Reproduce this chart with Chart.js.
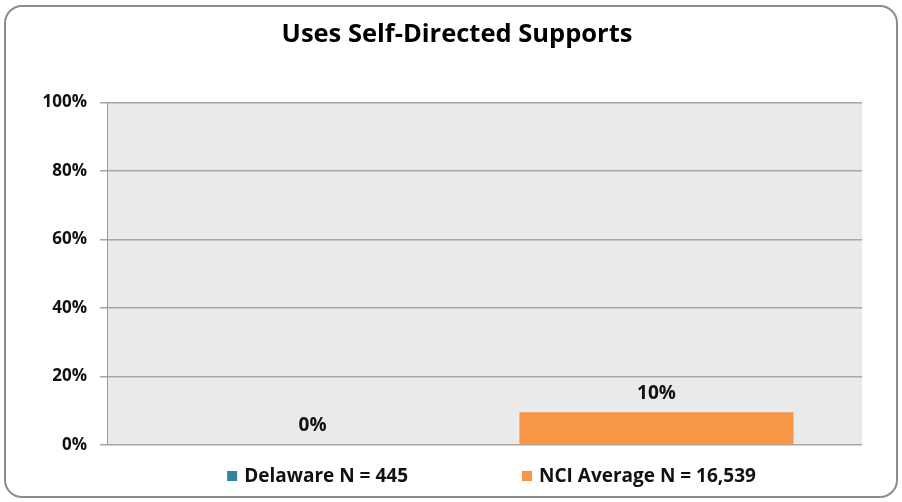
<!DOCTYPE html>
<html>
<head>
<meta charset="utf-8">
<script src="https://cdn.jsdelivr.net/npm/chart.js@4.4.1/dist/chart.umd.min.js"></script>
<style>
  html, body { margin: 0; padding: 0; background: #fff; }
  #wrap { position: relative; width: 902px; height: 502px; }
  #frame {
    position: absolute; left: 4px; top: 5px; width: 890px; height: 489px;
    border: 2px solid #8c8c8c; border-radius: 18px; pointer-events: none;
  }
  canvas { position: absolute; left: 0; top: 0; }
</style>
</head>
<body>
<div id="wrap">
  <canvas id="chart" width="902" height="502"></canvas>
  <div id="frame"></div>
</div>
<script>
// data
const categories = ['Uses Self-Directed Supports'];
const seriesNames = ['Delaware N = 445', 'NCI Average N = 16,539'];
const delawareValues = [0];
const nciValues = [9.6];
const valueLabels = [['0%'], ['10%']];
const yTicks = [0, 20, 40, 60, 80, 100];

const FONT = 'Open Sans';
const colors = ['#31859C', '#F79646'];

// gray plot background
const plotBg = {
    id: 'plotBg',
    beforeDraw(chart) {
        const { ctx, chartArea: a } = chart;
        ctx.save();
        ctx.fillStyle = '#EAEAEA';
        ctx.fillRect(a.left, a.top, a.right - a.left, a.bottom - a.top);
        ctx.restore();
    }
};

// value labels above bars
const barLabels = {
    id: 'barLabels',
    afterDatasetsDraw(chart) {
        const ctx = chart.ctx;
        ctx.save();
        ctx.font = 'bold 19px "' + FONT + '"';
        ctx.fillStyle = '#111';
        ctx.textAlign = 'center';
        ctx.textBaseline = 'middle';
        chart.data.datasets.forEach((ds, i) => {
            chart.getDatasetMeta(i).data.forEach((bar, j) => {
                ctx.fillText(valueLabels[i][j], bar.x, bar.y - 19);
            });
        });
        ctx.restore();
    }
};

// legend drawn at bottom
const bottomLegend = {
    id: 'bottomLegend',
    afterDraw(chart) {
        const ctx = chart.ctx;
        const a = chart.chartArea;
        ctx.save();
        ctx.font = 'bold 19px "' + FONT + '"';
        ctx.textBaseline = 'middle';
        const box = 10, gapText = 7, gapItem = 114;
        const widths = seriesNames.map(n => box + gapText + ctx.measureText(n).width);
        const total = widths.reduce((s, w) => s + w, 0) + gapItem * (widths.length - 1);
        let x = (a.left + a.right) / 2 + 7 - total / 2;
        const y = 476;
        seriesNames.forEach((n, i) => {
            ctx.fillStyle = colors[i];
            ctx.fillRect(x, y - box / 2, box, box);
            ctx.fillStyle = '#111';
            ctx.fillText(n, x + box + gapText, y + 1);
            x += widths[i] + gapItem;
        });
        ctx.restore();
    }
};

new Chart(document.getElementById('chart'), {
    type: 'bar',
    data: {
        labels: categories,
        datasets: [
            { label: seriesNames[0], data: delawareValues, backgroundColor: colors[0] },
            { label: seriesNames[1], data: nciValues, backgroundColor: colors[1] }
        ]
    },
    options: {
        responsive: false,
        animation: false,
        devicePixelRatio: 1,
        categoryPercentage: 0.911,
        barPercentage: 0.797,
        layout: { padding: { left: 12, right: 0, top: 0, bottom: 57 } },
        plugins: {
            legend: { display: false },
            tooltip: { enabled: false },
            title: {
                display: true,
                text: categories[0],
                color: '#000',
                font: { family: FONT, size: 25.5, weight: 'bold' },
                padding: { top: 19, bottom: 53 }
            }
        },
        scales: {
            x: { display: false },
            y: {
                min: 0,
                max: 100,
                afterFit(scale) { scale.width = 95; },
                afterBuildTicks(scale) { scale.ticks = yTicks.map(v => ({ value: v })); },
                border: { display: true, color: '#9a9a9a', width: 1 },
                grid: { color: '#a6a6a6', lineWidth: 1.5, tickLength: 7, drawTicks: true },
                ticks: {
                    padding: 13,
                    color: '#111',
                    font: { family: FONT, size: 17, weight: 'bold' },
                    callback: v => v + '%'
                }
            },
            y2: {
                position: 'right',
                min: 0,
                max: 100,
                afterFit(scale) { scale.width = 40; },
                grid: { display: false, drawTicks: false },
                border: { display: false },
                ticks: { display: false }
            }
        }
    },
    plugins: [plotBg, barLabels, bottomLegend]
});
</script>
</body>
</html>
